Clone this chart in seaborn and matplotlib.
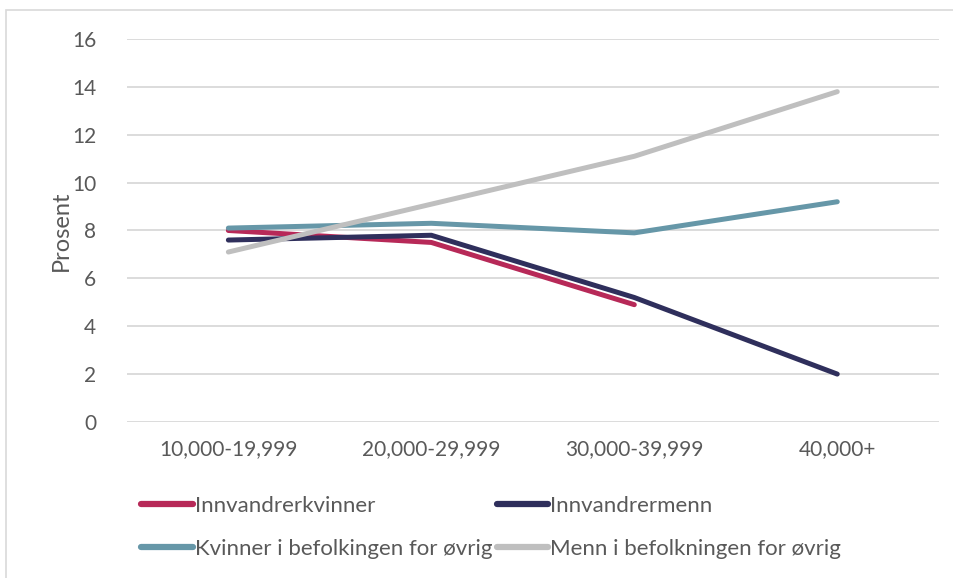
#!/usr/bin/env python3
"""Income groups line chart, recreated with seaborn"""

import matplotlib

matplotlib.use("Agg")
import matplotlib.pyplot as plt
import seaborn as sns
import pandas as pd
import numpy as np
from matplotlib.patches import Rectangle

###########################################################
# Data
###########################################################

categories = ["10,000-19,999", "20,000-29,999", "30,000-39,999", "40,000+"]
series_names = [
    "Innvandrerkvinner",
    "Innvandrermenn",
    "Kvinner i befolkingen for øvrig",
    "Menn i befolkningen for øvrig",
]
innvandrerkvinner = [8.0, 7.5, 4.9, np.nan]
innvandrermenn = [7.6, 7.8, 5.2, 2.0]
kvinner_ovrig = [8.1, 8.3, 7.9, 9.2]
menn_ovrig = [7.1, 9.1, 11.1, 13.8]
y_ticks = [0, 2, 4, 6, 8, 10, 12, 14, 16]

colors = ["#B72958", "#2F2F5C", "#6697A8", "#BFBFBF"]

###########################################################
# Main
###########################################################


def main():
    rows = []
    for name, vals in zip(
        series_names, [innvandrerkvinner, innvandrermenn, kvinner_ovrig, menn_ovrig]
    ):
        for i, (cat, v) in enumerate(zip(categories, vals)):
            rows.append({"pos": i, "kategori": cat, "serie": name, "prosent": v})
    df = pd.DataFrame(rows).dropna()

    sns.set_style("white")
    plt.rcParams["font.family"] = ["Lato", "DejaVu Sans"]
    text_color = "#595959"

    fig = plt.figure(figsize=(9.54, 5.78), dpi=100)
    ax = fig.add_axes([0.133, 0.270, 0.851, 0.6625])

    sns.lineplot(
        data=df,
        x="pos",
        y="prosent",
        hue="serie",
        hue_order=series_names,
        palette=colors,
        linewidth=3.6,
        solid_capstyle="round",
        solid_joinstyle="round",
        legend=False,
        ax=ax,
        zorder=3,
    )

    ax.set_xlim(-0.5, len(categories) - 0.5)
    ax.set_ylim(0, 16)
    ax.set_yticks(y_ticks)
    ax.set_xticks(range(len(categories)))
    ax.set_xticklabels(categories)
    ax.grid(axis="y", color="#D9D9D9", linewidth=1.3, zorder=0)
    ax.set_axisbelow(True)
    for s in ax.spines.values():
        s.set_visible(False)
    ax.tick_params(axis="both", length=0, labelsize=15, colors=text_color)
    ax.tick_params(axis="x", pad=12)
    ax.tick_params(axis="y", pad=22)
    ax.set_xlabel("")
    ax.set_ylabel("Prosent", fontsize=17, color=text_color, labelpad=0)

    # legend, row-major ordering in two columns
    handles = [
        plt.Line2D([], [], color=c, linewidth=4.5, solid_capstyle="round")
        for c in colors
    ]
    order = [0, 2, 1, 3]
    leg = fig.legend(
        [handles[i] for i in order],
        [series_names[i] for i in order],
        ncol=2,
        loc="upper left",
        bbox_to_anchor=(0.139, 0.158),
        frameon=False,
        fontsize=16,
        handlelength=2.3,
        handletextpad=0.1,
        columnspacing=0.2,
        labelspacing=1.05,
        borderaxespad=0,
    )
    for t in leg.get_texts():
        t.set_color(text_color)

    fig.patches.append(
        Rectangle(
            (0.006, -0.01),
            1.2,
            0.993,
            transform=fig.transFigure,
            fill=False,
            edgecolor="#D9D9D9",
            linewidth=1.2,
        )
    )

    fig.savefig("out.png", dpi=100)


if __name__ == "__main__":
    main()
